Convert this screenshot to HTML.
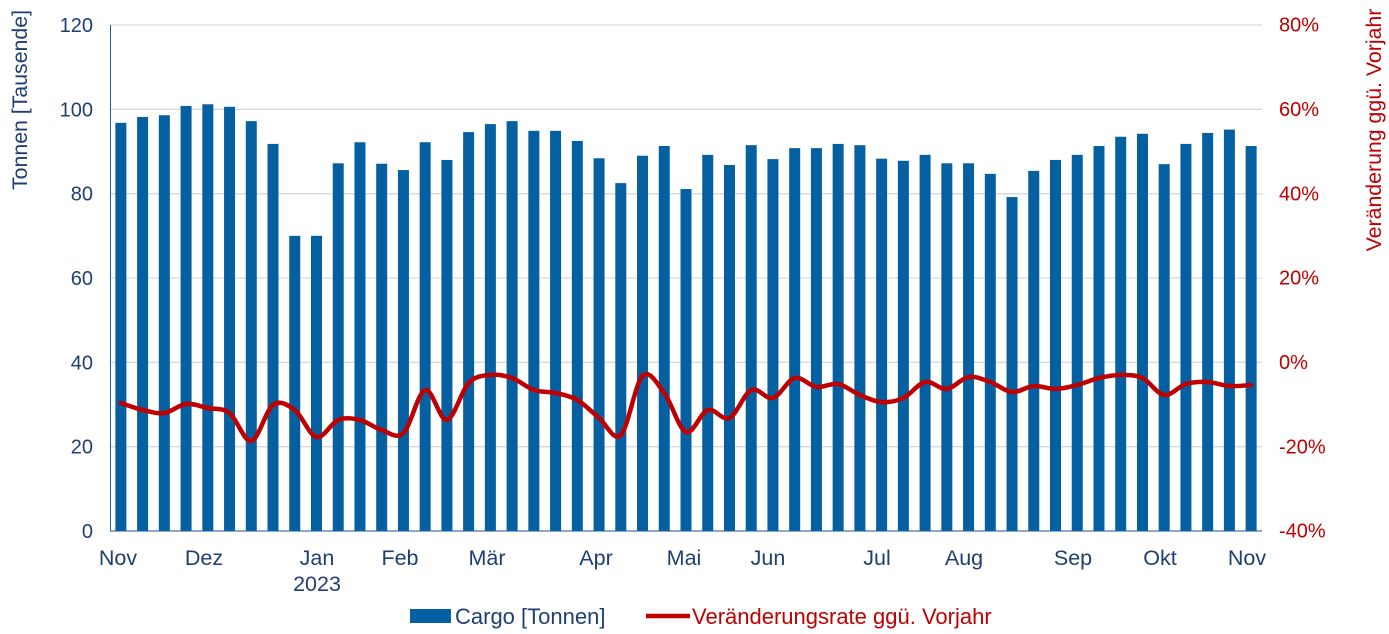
<!DOCTYPE html>
<html><head><meta charset="utf-8"><style>
html,body{margin:0;padding:0;background:#fff;}
svg{display:block;font-family:"Liberation Sans",Arial,sans-serif;}
</style></head><body>
<svg id="c" width="1389" height="634" xmlns="http://www.w3.org/2000/svg"></svg>
<script>
const s=document.getElementById('c');
let h='';
const y0=531,pxu=506/120;
for(let v=0;v<=120;v+=20){const y=y0-v*pxu;h+=`<line x1="110" x2="1262" y1="${y}" y2="${y}" stroke="#d9d9d9" stroke-width="1.3"/>`;
h+=`<text x="93" y="${y+7}" text-anchor="end" font-size="20" fill="#1f3f73">${v}</text>`;}
for(let p=-40;p<=80;p+=20){const y=362-p*pxu;h+=`<text x="1279" y="${y+7}" font-size="20" fill="#c00000">${p}%</text>`;}
const vals=[96.8,98.2,98.6,100.8,101.2,100.6,97.2,91.8,70,70,87.2,92.2,87.1,85.6,92.2,88,94.6,96.5,97.2,94.9,94.9,92.5,88.4,82.5,89,91.3,81.1,89.2,86.8,91.5,88.2,90.8,90.8,91.8,91.5,88.3,87.8,89.2,87.2,87.2,84.7,79.2,85.4,88,89.2,91.3,93.5,94.2,87,91.8,94.4,95.2,91.3];
const step=1152/53;
vals.forEach((v,i)=>{const cx=110+step*(i+0.5);const hh=v*pxu;h+=`<rect x="${cx-5.5}" y="${y0-hh}" width="11" height="${hh}" fill="#0460a1"/>`;});
h+=`<line x1="110.5" x2="110.5" y1="25" y2="531" stroke="#1f5f99" stroke-width="1"/>`;
h+=`<line x1="110" x2="1262" y1="531" y2="531" stroke="#1f5f99" stroke-width="1"/>`;
const ly=[403,410,413,404,408,413,441,405,410,437,420,420,430,433,390,420,383,375,378,390,393,400,418,435,376,393,432,410,418,390,398,378,387,384,395,402,398,382,389,377,382,392,386,389,385,378,375,378,395,384,382,386,385];
const pts=ly.map((y,i)=>[110+step*(i+0.5),y]);
let d=`M${pts[0][0]},${pts[0][1]}`;
for(let i=0;i<pts.length-1;i++){const p0=pts[i-1]||pts[i],p1=pts[i],p2=pts[i+1],p3=pts[i+2]||p2;
const t=1/6;d+=` C${p1[0]+(p2[0]-p0[0])*t},${p1[1]+(p2[1]-p0[1])*t} ${p2[0]-(p3[0]-p1[0])*t},${p2[1]-(p3[1]-p1[1])*t} ${p2[0]},${p2[1]}`;}
h+=`<path d="${d}" fill="none" stroke="#c00000" stroke-width="4.5" stroke-linejoin="round" stroke-linecap="round"/>`;
const xl=[["Nov",118],["Dez",204],["Jan",317],["Feb",400],["Mär",487],["Apr",596],["Mai",684],["Jun",768],["Jul",877],["Aug",964],["Sep",1073],["Okt",1160],["Nov",1247]];
xl.forEach(([t,x])=>{h+=`<text x="${x}" y="565" text-anchor="middle" font-size="21.5" fill="#1f3f73">${t}</text>`;});
h+=`<text x="317" y="591" text-anchor="middle" font-size="21.5" fill="#1f3f73">2023</text>`;
h+=`<text transform="translate(27,100) rotate(-90)" text-anchor="middle" font-size="21.3" fill="#1f3f73">Tonnen [Tausende]</text>`;
h+=`<text transform="translate(1381,130) rotate(-90)" text-anchor="middle" font-size="21.3" fill="#c00000">Veränderung ggü. Vorjahr</text>`;
h+=`<rect x="410" y="609" width="41" height="14" fill="#0460a1"/><text x="455" y="624" font-size="22" fill="#1f3f73">Cargo [Tonnen]</text>`;
h+=`<line x1="646" x2="690" y1="616" y2="616" stroke="#c00000" stroke-width="4.5"/><text x="692" y="624" font-size="22" fill="#c00000">Veränderungsrate ggü. Vorjahr</text>`;
s.innerHTML=h;
</script>
</body></html>
